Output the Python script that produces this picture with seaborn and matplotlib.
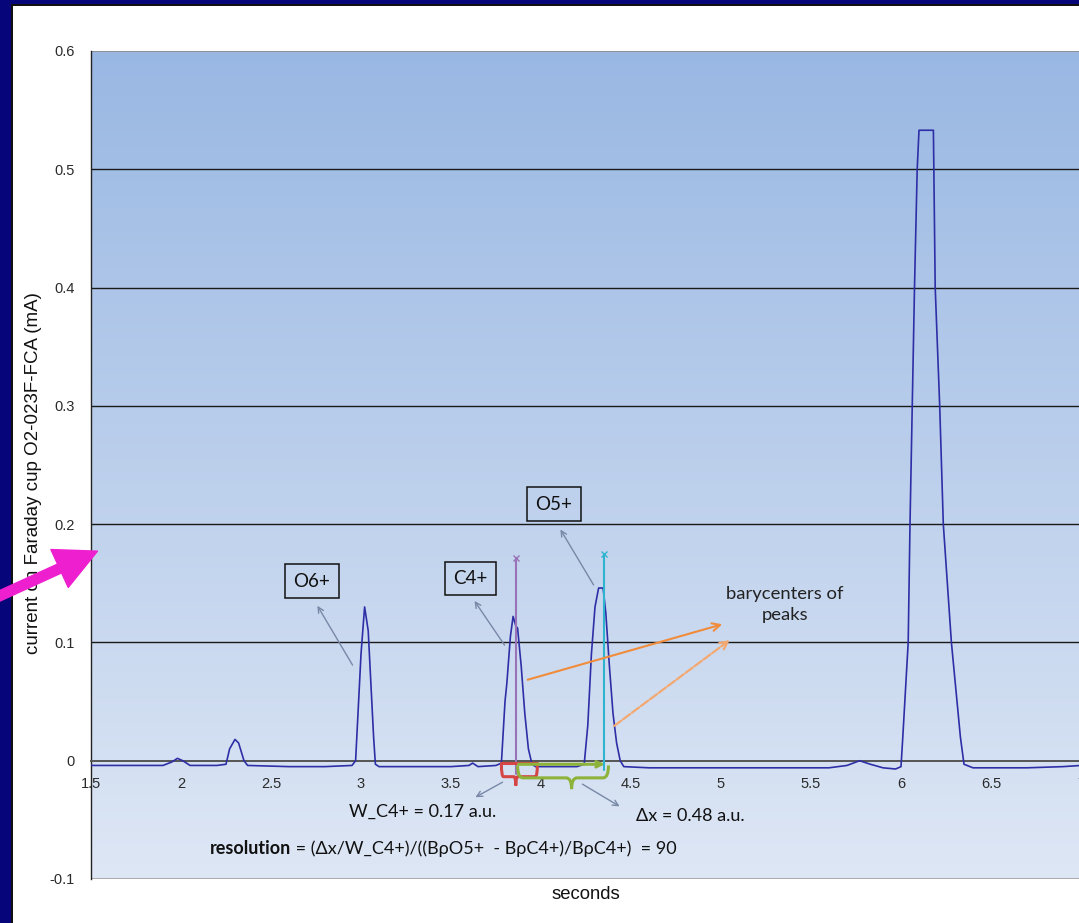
import numpy as np
import matplotlib
matplotlib.use("Agg")
import matplotlib.pyplot as plt
import seaborn as sns
from matplotlib.patches import Rectangle, FancyArrowPatch
from matplotlib.path import Path
from matplotlib.patches import PathPatch

# ------------------------------------------------------------
# Data
# ------------------------------------------------------------
time_s = [1.50, 1.70, 1.90, 1.95, 1.98, 2.01, 2.05, 2.20, 2.25, 2.27, 2.30, 2.32,
          2.35, 2.37, 2.60, 2.80, 2.95, 2.97, 3.00, 3.02, 3.04, 3.07, 3.08, 3.10,
          3.30, 3.50, 3.60, 3.62, 3.65, 3.75, 3.78, 3.80, 3.81, 3.83, 3.845, 3.86,
          3.87, 3.89, 3.91, 3.93, 3.95, 3.97, 4.10, 4.20, 4.24, 4.26, 4.28, 4.30,
          4.32, 4.345, 4.36, 4.38, 4.40, 4.42, 4.44, 4.46, 4.60, 5.00, 5.40, 5.60,
          5.70, 5.77, 5.83, 5.90, 5.97, 6.00, 6.01, 6.04, 6.05, 6.075, 6.09, 6.10,
          6.18, 6.19, 6.215, 6.235, 6.28, 6.33, 6.35, 6.40, 6.70, 6.90, 7.00]
current_mA = [-0.004, -0.004, -0.004, -0.001, 0.002, 0.000, -0.004, -0.004, -0.003, 0.010, 0.018, 0.015,
              0.000, -0.004, -0.005, -0.005, -0.004, 0.000, 0.090, 0.130, 0.110, 0.020, -0.003, -0.005,
              -0.005, -0.005, -0.004, -0.002, -0.005, -0.004, -0.002, 0.050, 0.065, 0.105, 0.122, 0.114,
              0.112, 0.080, 0.040, 0.010, -0.003, -0.005, -0.005, -0.005, -0.003, 0.030, 0.090, 0.130,
              0.146, 0.146, 0.125, 0.080, 0.040, 0.015, 0.000, -0.005, -0.006, -0.006, -0.006, -0.006,
              -0.004, 0.000, -0.003, -0.006, -0.007, -0.005, 0.020, 0.100, 0.200, 0.400, 0.500, 0.533,
              0.533, 0.400, 0.300, 0.200, 0.100, 0.020, -0.003, -0.006, -0.006, -0.005, -0.004]

x_ticks = [1.5, 2, 2.5, 3, 3.5, 4, 4.5, 5, 5.5, 6, 6.5, 7]
x_tick_labels = ["1.5", "2", "2.5", "3", "3.5", "4", "4.5", "5", "5.5", "6", "6.5", "7"]
y_ticks = [-0.1, 0, 0.1, 0.2, 0.3, 0.4, 0.5, 0.6]
y_tick_labels = ["-0.1", "0", "0.1", "0.2", "0.3", "0.4", "0.5", "0.6"]

ion_labels = ["O6+", "C4+", "O5+"]
barycenter_c4 = 3.86
barycenter_o5 = 4.35
c4_width_edges = (3.78, 3.98)

# ------------------------------------------------------------
# Figure
# ------------------------------------------------------------
sns.set_style("white")
plt.rcParams["font.family"] = ["Liberation Sans", "DejaVu Sans"]
note_font = ["Lato", "DejaVu Sans"]

W, H = 1079, 923
fig = plt.figure(figsize=(W / 100, H / 100), dpi=100)
fig.patch.set_facecolor("white")
ax = fig.add_axes([91 / W, 44 / H, 990 / W, 828 / H])

xlim = (1.5, 7.0)
ylim = (-0.1, 0.6)

# gradient background of the plot area
top_c = np.array([0.60, 0.72, 0.89])
bot_c = np.array([0.87, 0.905, 0.96])
t = np.linspace(0, 1, 256)[:, None]
grad = (top_c * (1 - t) + bot_c * t)[:, None, :]
ax.imshow(grad, extent=(xlim[0], xlim[1], ylim[0], ylim[1]), aspect="auto",
          zorder=0, interpolation="bilinear")

# grid lines
for yv in [0.1, 0.2, 0.3, 0.4, 0.5]:
    ax.axhline(yv, color="#1a1a1a", lw=1.0, zorder=1)
ax.axhline(0.6, color="#8a8a8a", lw=1.2, zorder=1)
ax.axhline(-0.1, color="#a0a0a0", lw=1.2, zorder=1)

sns.lineplot(x=time_s, y=current_mA, ax=ax, color="#2e2ea6", lw=1.2,
             estimator=None, sort=False, zorder=4)

# barycenter lines
ax.plot([barycenter_c4, barycenter_c4], [-0.011, 0.171], color="#9a72b8", lw=1.5, zorder=5)
ax.plot([barycenter_c4], [0.171], marker="x", ms=5, color="#9a72b8", zorder=5)
ax.plot([barycenter_o5, barycenter_o5], [-0.008, 0.175], color="#2fb4cf", lw=1.5, zorder=5)
ax.plot([barycenter_o5], [0.175], marker="x", ms=5, color="#2fb4cf", zorder=5)


def brace(x0, x1, xm, ytop, ybot, ytip, color):
    r = (x1 - x0) * 0.06
    verts = [(x0, ytop), (x0, ybot), (x0 + r, ybot),
             (xm - r, ybot), (xm, ybot), (xm, ytip),
             (xm, ybot), (xm + r, ybot),
             (x1 - r, ybot), (x1, ybot), (x1, ytop)]
    codes = [Path.MOVETO, Path.CURVE3, Path.CURVE3,
             Path.LINETO, Path.CURVE3, Path.CURVE3,
             Path.CURVE3, Path.CURVE3,
             Path.LINETO, Path.CURVE3, Path.CURVE3]
    ax.add_patch(PathPatch(Path(verts, codes), fc="none", ec=color, lw=2.2,
                           zorder=6, clip_on=False))


# width of C4+ (red) and distance between barycenters (green)
ax.plot(list(c4_width_edges), [-0.002, -0.002], color="#d64545", lw=2.2, zorder=6)
brace(c4_width_edges[0], c4_width_edges[1], barycenter_c4, -0.003, -0.0135, -0.021, "#d64545")
ax.annotate("", xy=(barycenter_o5 + 0.02, -0.003), xytext=(barycenter_c4, -0.003),
            arrowprops=dict(arrowstyle="->", color="#8db33a", lw=2.2), zorder=6)
brace(barycenter_c4 + 0.01, barycenter_o5 + 0.025, 4.17, -0.004, -0.0145, -0.024, "#8db33a")

# ion boxes
box_pos = [(2.728, 0.1517), (3.608, 0.154), (4.072, 0.217)]
arrow_tails = [(2.961, 0.0788), (3.806, 0.0958), (4.30, 0.1466)]
arrow_heads = [(2.75, 0.133), (3.622, 0.137), (4.10, 0.1975)]
for lab, bp, tl, hd in zip(ion_labels, box_pos, arrow_tails, arrow_heads):
    ax.text(bp[0], bp[1], lab, ha="center", va="center", fontsize=13.5,
            family=note_font, color="#111111", zorder=7,
            bbox=dict(boxstyle="square,pad=0.45", fc="none", ec="#111111", lw=1.1))
    ax.annotate("", xy=hd, xytext=tl,
                arrowprops=dict(arrowstyle="->", color="#7888a6", lw=1.0), zorder=7)

# barycenter arrows
ax.annotate("", xy=(5.022, 0.116), xytext=(3.911, 0.0678),
            arrowprops=dict(arrowstyle="->", color="#f08c3c", lw=1.5,
                            mutation_scale=14), zorder=7)
ax.annotate("", xy=(5.061, 0.1034), xytext=(4.394, 0.028),
            arrowprops=dict(arrowstyle="->", color="#f4a870", lw=1.6, ls=(0, (4, 1)),
                            mutation_scale=14), zorder=7)
ax.text(5.356, 0.132, "barycenters of\npeaks", ha="center", va="center",
        fontsize=13.3, family=note_font, color="#222222", linespacing=1.35, zorder=7)

# width / delta annotations
ax.annotate("", xy=(3.622, -0.032), xytext=(3.80, -0.017),
            arrowprops=dict(arrowstyle="->", color="#7888a6", lw=1.0), zorder=7)
ax.text(3.34, -0.0432, "W_C4+ = 0.17 a.u.", ha="center", va="center",
        fontsize=13, family=note_font, color="#111111", zorder=7)
ax.annotate("", xy=(4.45, -0.0398), xytext=(4.217, -0.0186),
            arrowprops=dict(arrowstyle="->", color="#7888a6", lw=1.0), zorder=7)
ax.text(4.83, -0.0466, "Δx = 0.48 a.u.", ha="center", va="center",
        fontsize=13, family=note_font, color="#111111", zorder=7)

res_bold = ax.text(2.16, -0.0746, "resolution", ha="left", va="center", fontsize=13,
                   family=note_font, weight="bold", color="#111111", zorder=7)
ax.annotate(" = (Δx/W_C4+)/((BρO5+  - BρC4+)/BρC4+)  = 90", xy=(1, 0.5),
            xycoords=res_bold, ha="left", va="center", fontsize=13,
            family=note_font, color="#111111", zorder=7)

# axes styling
ax.set_xlim(*xlim)
ax.set_ylim(*ylim)
ax.set_xticks(x_ticks)
ax.set_xticklabels(x_tick_labels)
ax.set_yticks(y_ticks)
ax.set_yticklabels(y_tick_labels)
for s in ["top", "right"]:
    ax.spines[s].set_visible(False)
ax.spines["bottom"].set_position(("data", 0))
ax.spines["bottom"].set_color("#555555")
ax.spines["bottom"].set_linewidth(1.4)
ax.spines["bottom"].set_zorder(3)
ax.spines["left"].set_color("#222222")
ax.spines["left"].set_linewidth(1.0)
ax.tick_params(axis="x", direction="out", length=6, width=1, color="#333333",
               labelsize=10.5, labelcolor="#2a2a2a", pad=6)
ax.tick_params(axis="y", direction="out", length=6, width=1, color="#333333",
               labelsize=10.5, labelcolor="#2a2a2a", pad=6)
ax.set_xlabel("seconds", fontsize=13.3, color="#111111", labelpad=0)
ax.xaxis.set_label_coords(0.5, -0.009)
ax.set_ylabel("current on Faraday cup O2-023F-FCA (mA)", fontsize=13.5, color="#111111")
ax.yaxis.set_label_coords(-0.049, 0.49)

# slide frame
fig.patches.append(Rectangle((0, 0), 11, H, transform=None, fc="#06067a", ec="none", zorder=10))
fig.patches.append(Rectangle((0, H - 4), W, 4, transform=None, fc="#06067a", ec="none", zorder=10))
fig.patches.append(Rectangle((11, 0), 1.5, H - 4, transform=None, fc="#111111", ec="none", zorder=10))
fig.patches.append(Rectangle((11, H - 5.5), W, 1.5, transform=None, fc="#111111", ec="none", zorder=10))

# magenta pointer arrow
fig.patches.append(FancyArrowPatch((-5, 325), (100, 373), transform=None,
                                   arrowstyle="simple,head_length=1.5,head_width=1.5,tail_width=0.35",
                                   mutation_scale=20, color="#ee1fcf", zorder=11))

fig.savefig("out.png", dpi=100)
